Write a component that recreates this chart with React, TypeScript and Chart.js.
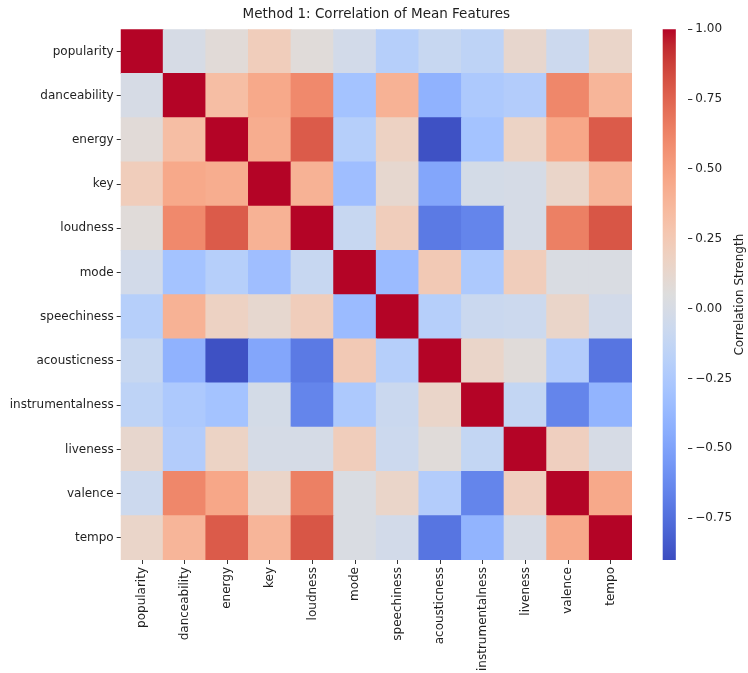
import React, { useEffect, useRef } from 'react';
import { Chart, registerables } from 'chart.js';

Chart.register(...registerables);

// ---------- data ----------
const features = [
  'popularity', 'danceability', 'energy', 'key', 'loudness', 'mode',
  'speechiness', 'acousticness', 'instrumentalness', 'liveness', 'valence', 'tempo',
];

const popularity = [1.0, 0.0, 0.08, 0.22, 0.07, -0.03, -0.2, -0.1, -0.15, 0.13, -0.07, 0.15];
const danceability = [0.0, 1.0, 0.33, 0.45, 0.6, -0.3, 0.4, -0.41, -0.25, -0.22, 0.61, 0.38];
const energy = [0.08, 0.33, 1.0, 0.43, 0.78, -0.2, 0.18, -0.88, -0.3, 0.17, 0.46, 0.78];
const key = [0.22, 0.45, 0.43, 1.0, 0.4, -0.33, 0.12, -0.48, -0.02, -0.01, 0.15, 0.38];
const loudness = [0.07, 0.6, 0.78, 0.4, 1.0, -0.1, 0.22, -0.7, -0.65, -0.01, 0.64, 0.8];
const mode = [-0.03, -0.3, -0.2, -0.33, -0.1, 1.0, -0.35, 0.25, -0.25, 0.22, 0.02, 0.02];
const speechiness = [-0.2, 0.4, 0.18, 0.12, 0.22, -0.35, 1.0, -0.2, -0.08, -0.07, 0.15, -0.03];
const acousticness = [-0.1, -0.41, -0.88, -0.48, -0.7, 0.25, -0.2, 1.0, 0.15, 0.07, -0.22, -0.72];
const instrumentalness = [-0.15, -0.25, -0.3, -0.02, -0.65, -0.25, -0.08, 0.15, 1.0, -0.12, -0.65, -0.4];
const liveness = [0.13, -0.22, 0.17, -0.01, -0.01, 0.22, -0.07, 0.07, -0.12, 1.0, 0.2, 0.0];
const valence = [-0.07, 0.61, 0.46, 0.15, 0.64, 0.02, 0.15, -0.22, -0.65, 0.2, 1.0, 0.45];
const tempo = [0.15, 0.38, 0.78, 0.38, 0.8, 0.02, -0.03, -0.72, -0.4, 0.0, 0.45, 1.0];

const matrixRows = [
  popularity, danceability, energy, key, loudness, mode,
  speechiness, acousticness, instrumentalness, liveness, valence, tempo,
];

const colorbarRange = [-0.9, 1.0];
const colorbarTicks = [-0.75, -0.5, -0.25, 0.0, 0.25, 0.5, 0.75, 1.0];

const titleText = 'Method 1: Correlation of Mean Features';
const colorbarLabel = 'Correlation Strength';

// ---------- coolwarm colormap ----------
const COOLWARM: number[][] = [
  [59, 76, 192], [68, 90, 204], [77, 104, 215], [87, 117, 225], [98, 130, 234],
  [108, 142, 241], [119, 154, 247], [130, 165, 251], [141, 176, 254], [152, 185, 255],
  [163, 194, 255], [174, 201, 253], [184, 208, 249], [194, 213, 244], [204, 217, 238],
  [213, 219, 230], [221, 221, 221], [229, 216, 209], [236, 211, 197], [241, 204, 185],
  [245, 196, 173], [247, 187, 160], [247, 177, 148], [247, 166, 135], [244, 154, 123],
  [241, 141, 111], [236, 127, 99], [229, 112, 88], [222, 96, 77], [213, 80, 66],
  [203, 62, 56], [192, 40, 47], [180, 4, 38],
];

function coolwarmAt(t: number): string {
  const tt = Math.max(0, Math.min(1, t)) * (COOLWARM.length - 1);
  const i = Math.min(COOLWARM.length - 2, Math.floor(tt));
  const f = tt - i;
  const a = COOLWARM[i];
  const b = COOLWARM[i + 1];
  const c = a.map((v, k) => Math.round(v + (b[k] - v) * f));
  return `rgb(${c[0]},${c[1]},${c[2]})`;
}

function colorFor(v: number): string {
  const [lo, hi] = colorbarRange;
  return coolwarmAt((v - lo) / (hi - lo));
}

const FONT = "'DejaVu Sans', sans-serif";
const TEXT = '#1f1f1f';
const TICK_SIZE = 12;

export default function App() {
  const heatRef = useRef<HTMLCanvasElement | null>(null);
  const cbRef = useRef<HTMLCanvasElement | null>(null);

  useEffect(() => {
    Chart.defaults.font.family = FONT;
    const n = features.length;

    const datasets = [];
    for (let r = n - 1; r >= 0; r--) {
      datasets.push({
        label: features[r],
        data: features.map(() => 1),
        backgroundColor: matrixRows[r].map(colorFor),
        borderWidth: 0,
        barPercentage: 1,
        categoryPercentage: 1,
        inflateAmount: 0.5,
      });
    }

    const heat = new Chart(heatRef.current as HTMLCanvasElement, {
      type: 'bar',
      data: { labels: features, datasets },
      options: {
        animation: false,
        responsive: false,
        devicePixelRatio: 1,
        layout: { padding: { left: 0, right: 8, top: 0, bottom: 0 } },
        plugins: {
          legend: { display: false },
          tooltip: { enabled: false },
          title: {
            display: true,
            text: titleText,
            fullSize: false,
            color: TEXT,
            font: { size: 13.5, weight: 'normal', family: FONT, lineHeight: 1.2 },
            padding: { top: 6.5, bottom: 6.6 },
          },
        },
        scales: {
          x: {
            type: 'category',
            stacked: true,
            offset: true,
            border: { display: false },
            grid: { offset: false, drawOnChartArea: false, drawTicks: true, tickLength: 4, color: '#333' },
            ticks: {
              autoSkip: false,
              maxRotation: 90,
              minRotation: 90,
              padding: 3,
              color: TEXT,
              font: { size: TICK_SIZE, family: FONT },
            },
            afterFit: (scale: any) => { scale.height = 113; },
          },
          y: {
            type: 'linear',
            stacked: true,
            min: 0,
            max: n,
            border: { display: false },
            grid: { drawOnChartArea: false, drawTicks: true, tickLength: 4, color: '#333' },
            afterBuildTicks: (axis: any) => {
              axis.ticks = features.map((_, i) => ({ value: n - 1 - i + 0.5 }));
            },
            ticks: {
              autoSkip: false,
              padding: 3,
              color: TEXT,
              font: { size: TICK_SIZE, family: FONT },
              callback: (value: any) => features[n - 1 - Math.floor(Number(value))],
            },
            afterFit: (scale: any) => { scale.width = 120.7; },
          },
        },
      },
    } as any);

    const cbTitlePlugin = {
      id: 'cbTitle',
      afterDraw(chart: any) {
        const ctx = chart.ctx;
        const area = chart.chartArea;
        ctx.save();
        ctx.fillStyle = TEXT;
        ctx.font = `${TICK_SIZE}px ${FONT}`;
        ctx.textAlign = 'center';
        ctx.textBaseline = 'middle';
        ctx.translate(100, (area.top + area.bottom) / 2);
        ctx.rotate(-Math.PI / 2);
        ctx.fillText(colorbarLabel, 0, 0);
        ctx.restore();
      },
    };

    const cb = new Chart(cbRef.current as HTMLCanvasElement, {
      type: 'bar',
      data: {
        labels: ['cb'],
        datasets: [
          {
            data: [colorbarRange],
            borderWidth: 0,
            barPercentage: 1,
            categoryPercentage: 1,
            backgroundColor: (ctx: any) => {
              const chart = ctx.chart;
              const area = chart.chartArea;
              if (!area) return 'rgba(0,0,0,0)';
              const g = chart.ctx.createLinearGradient(0, area.bottom, 0, area.top);
              COOLWARM.forEach((c, i) => {
                g.addColorStop(i / (COOLWARM.length - 1), `rgb(${c[0]},${c[1]},${c[2]})`);
              });
              return g;
            },
          },
        ],
      },
      options: {
        animation: false,
        responsive: false,
        devicePixelRatio: 1,
        layout: { padding: { left: 22.7, right: 0, top: 29.3, bottom: 113 } },
        plugins: { legend: { display: false }, tooltip: { enabled: false }, title: { display: false } },
        scales: {
          x: { display: false, offset: false },
          y: {
            type: 'linear',
            position: 'right',
            min: colorbarRange[0],
            max: colorbarRange[1],
            border: { display: false },
            grid: { drawOnChartArea: false, drawTicks: true, tickLength: 4, color: '#333' },
            afterBuildTicks: (axis: any) => {
              axis.ticks = colorbarTicks.map((v) => ({ value: v }));
            },
            ticks: {
              padding: 3,
              color: TEXT,
              font: { size: TICK_SIZE, family: FONT },
              callback: (value: any) => {
                const v = Number(value);
                const s = Math.abs(v).toFixed(2);
                return v < 0 ? '\u2212' + s : s;
              },
            },
            afterFit: (scale: any) => { scale.width = 59.7; },
          },
        },
      },
      plugins: [cbTitlePlugin],
    } as any);

    return () => {
      heat.destroy();
      cb.destroy();
    };
  }, []);

  return (
    <div style={{ position: 'absolute', left: 0, top: 0, width: 748, height: 673, background: '#fff' }}>
      <canvas ref={heatRef} width={640} height={673} style={{ position: 'absolute', left: 0, top: 0 }} />
      <canvas ref={cbRef} width={108} height={673} style={{ position: 'absolute', left: 640, top: 0 }} />
    </div>
  );
}
